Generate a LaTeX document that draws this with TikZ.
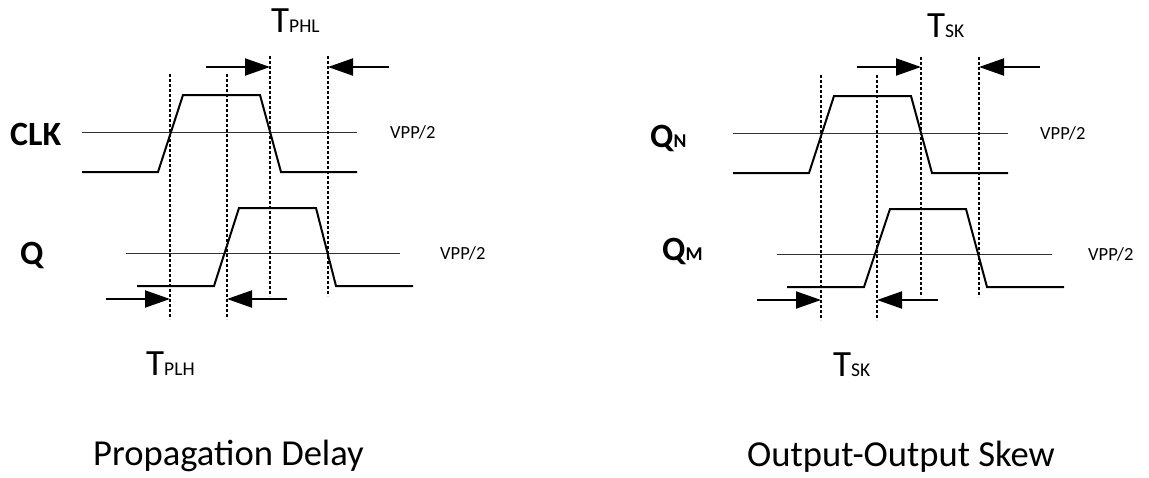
\documentclass[tikz,border=0pt]{standalone}
\usepackage{fontspec}
\setmainfont{Carlito}
\usepackage{tikz}
\usetikzlibrary{positioning}
\usetikzlibrary{arrows.meta}
\tikzstyle{wave} = [line width=2pt, line join=miter]
\tikzstyle{level} = [line width=1pt, black!80]
\tikzstyle{guide} = [line width=1.3pt, dash pattern=on 3pt off 2pt]
\tikzstyle{coord} = [coordinate]
\tikzstyle{delay} = [line width=2pt, ->]
\tikzstyle{signal} = [anchor=base west, inner sep=0pt, font=\bfseries\fontsize{34}{40}\selectfont]
\tikzstyle{timing} = [anchor=base west, inner sep=0pt, font=\fontsize{37}{44}\selectfont]
\tikzstyle{vpp} = [inner sep=0pt, font=\fontsize{18.5}{22}\selectfont]
\tikzstyle{caption} = [anchor=base west, inner sep=0pt, font=\fontsize{36.6}{44}\selectfont]
\newcommand{\smallsub}[1]{{\fontsize{19.5}{24}\selectfont #1}}

\begin{document}
\begin{tikzpicture}[x=1pt, y=-1pt, >={Triangle[length=25pt,width=17pt]}]
    \useasboundingbox (0,0) rectangle (1149,477);

    % propagation delay
    \draw [level] (82,132) -- (357,132) coordinate (clkend);
    \draw [wave] (82,172) -- (158,172) -- (183,95) -- (260,95) -- (281,172) -- (357,172);
    \draw [level] (126,253) -- (400,253) coordinate (qend);
    \draw [wave] (137,286) -- (214,286) -- (239,208) -- (316,208) -- (336,286) -- (413,286);

    \draw [guide] (170,74) coordinate (clkup) -- (170,319);
    \draw [guide] (227,74) coordinate (qup) -- (227,319);
    \draw [guide] (270,56) coordinate (clkdn) -- (270,296);
    \draw [guide] (328,56) coordinate (qdn) -- (328,296);

    \node [coord] (phla) at (206,67) {};
    \node [coord] (phlb) at (389,67) {};
    \node [coord] (plha) at (106,299) {};
    \node [coord] (plhb) at (287,299) {};
    \draw [delay] (phla) -- (phla -| clkdn);
    \draw [delay] (phlb) -- (phlb -| qdn);
    \draw [delay] (plha) -- (plha -| clkup);
    \draw [delay] (plhb) -- (plhb -| qup);

    \node [signal] (clk) at (10,145) {CLK};
    \node [signal] (q) at (20,264) {Q};
    \node [vpp, right=33pt of clkend] (vclk) {VPP/2};
    \node [vpp, right=40pt of qend] (vq) {VPP/2};
    \node [timing] (tphl) at (271,32) {T\smallsub{PHL}};
    \node [timing] (tplh) at (146,375) {T\smallsub{PLH}};
    \node [caption] (prop) at (93,465) {Propagation Delay};

    % output-output skew
    \draw [level] (733,133) -- (1008,133) coordinate (qnend);
    \draw [wave] (733,173) -- (809,173) -- (834,96) -- (911,96) -- (932,173) -- (1008,173);
    \draw [level] (777,254) -- (1052,254) coordinate (qmend);
    \draw [wave] (787,287) -- (864,287) -- (890,209) -- (966,209) -- (987,287) -- (1064,287);

    \draw [guide] (821,75) coordinate (qnup) -- (821,320);
    \draw [guide] (877,75) coordinate (qmup) -- (877,320);
    \draw [guide] (921,57) coordinate (qndn) -- (921,297);
    \draw [guide] (979,57) coordinate (qmdn) -- (979,297);

    \node [coord] (ska) at (857,67) {};
    \node [coord] (skb) at (1040,67) {};
    \node [coord] (skc) at (757,300) {};
    \node [coord] (skd) at (938,300) {};
    \draw [delay] (ska) -- (ska -| qndn);
    \draw [delay] (skb) -- (skb -| qmdn);
    \draw [delay] (skc) -- (skc -| qnup);
    \draw [delay] (skd) -- (skd -| qmup);

    \node [signal] (qn) at (650,147) {Q\smallsub{N}};
    \node [signal] (qm) at (662,260) {Q\smallsub{M}};
    \node [vpp, right=32pt of qnend] (vqn) {VPP/2};
    \node [vpp, right=36pt of qmend] (vqm) {VPP/2};
    \node [timing] (tska) at (927,37) {T\smallsub{SK}};
    \node [timing] (tskb) at (833,376) {T\smallsub{SK}};
    \node [caption] (skew) at (747,466) {Output-Output Skew};
\end{tikzpicture}
\end{document}
